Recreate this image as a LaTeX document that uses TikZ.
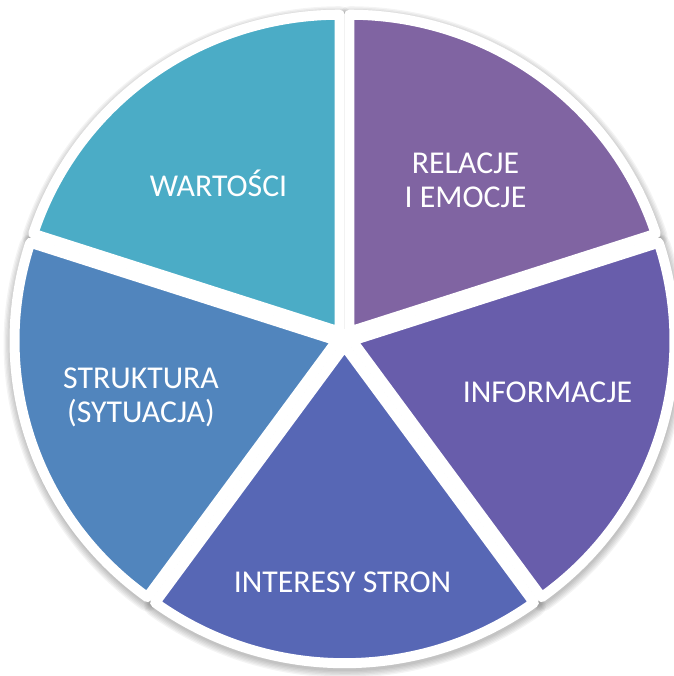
\documentclass[tikz,border=0pt]{standalone}
\usepackage{fontspec}
\setmainfont{Carlito}
\definecolor{relacje}{HTML}{8064A2}
\definecolor{inform}{HTML}{685DAB}
\definecolor{interesy}{HTML}{5767B5}
\definecolor{struktura}{HTML}{5185BD}
\definecolor{wartosci}{HTML}{4BACC6}
\begin{document}
\begin{tikzpicture}[x=1pt,y=1pt,
  slice/.style={draw=white, line width=10pt, line join=round},
  shadowring/.style={draw=black, draw opacity=0.045},
  lbl/.style={text=white, font=\fontsize{31.8}{34}\selectfont, inner sep=0pt, align=center}]
\useasboundingbox (0,0) rectangle (673,676);
\def\R{317}
\def\d{8}
\begin{scope}[shift={(344.5,337.8)}, xscale=1.0165]
  % shadows
  \foreach \a in {18,90,162,234,306} {
    \pgfmathsetmacro\m{\a+36}
    \begin{scope}[shift={(0.5,-3)}]
      \fill[black, opacity=0.10] (\m:\d) -- ++(\a:\R) arc[start angle=\a, end angle=\a+72, radius=\R] -- cycle;
      \foreach \k in {0,...,5} {
        \pgfmathsetmacro\lw{10+2.6*\k}
        \draw[shadowring, line width=\lw pt, line join=round] (\m:\d) -- ++(\a:\R) arc[start angle=\a, end angle=\a+72, radius=\R] -- cycle;
      }
    \end{scope}
  }
  \fill[white] (0,0) circle[radius=9];
  % slices
  \foreach \a/\c in {18/relacje, 90/wartosci, 162/struktura, 234/interesy, 306/inform} {
    \pgfmathsetmacro\m{\a+36}
    \filldraw[slice, fill=\c] (\m:\d) -- ++(\a:\R) arc[start angle=\a, end angle=\a+72, radius=\R] -- cycle;
  }
\end{scope}
\node[lbl, anchor=base] (wart) at (218.5,479) {WARTOŚCI};
\node[lbl, anchor=center] (rel) at (465.5,496) {RELACJE\\I EMOCJE};
\node[lbl, anchor=base] (inf) at (547.5,273) {INFORMACJE};
\node[lbl, anchor=base] (int) at (342.5,83) {INTERESY STRON};
\node[lbl, anchor=center] (str) at (141,279) {STRUKTURA\\(SYTUACJA)};
\end{tikzpicture}
\end{document}
